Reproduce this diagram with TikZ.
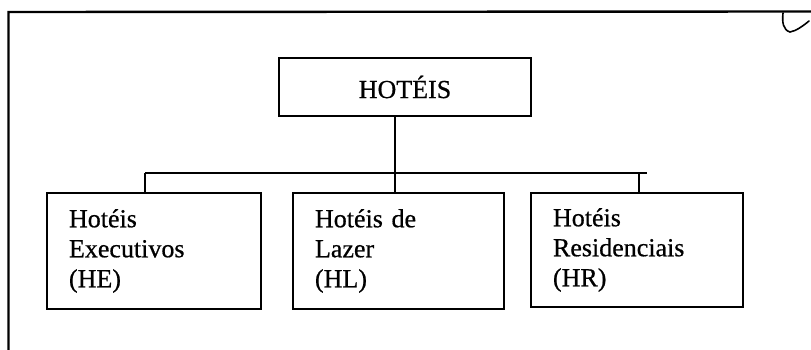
\documentclass[tikz,border=0pt]{standalone}
\usepackage{fontspec}
\setmainfont{Liberation Serif}[FakeBold=0.6]
\begin{document}
\begin{tikzpicture}[x=1pt,y=1pt,
  box/.style={draw=black, line width=2pt, rectangle, inner ysep=0pt,
    font=\fontsize{26}{30}\selectfont},
  childbox/.style={box, anchor=north west, align=left, inner xsep=22pt,
    minimum height=116pt},
  conn/.style={draw=black, line width=1.6pt},
  frame/.style={draw=black, line width=2.4pt}]
\useasboundingbox (0,0) rectangle (811,-350);
% outer frame (left and top sides only, as in the scan)
\coordinate (fbl) at (8.5,-350);
\coordinate (ftl) at (8.5,-12);
\coordinate (ftr) at (811,-11.5);
\draw[frame] (fbl) -- (ftl) -- (ftr);
% handwritten tick mark
\coordinate (tk1) at (783,-13);
\coordinate (tk2) at (790,-32);
\coordinate (tk3) at (809,-21);
\draw[line width=1.6pt, line cap=round] (tk1) .. controls (782,-22) and (783,-30) .. (tk2)
  .. controls (796,-31) and (803,-26) .. (tk3);
% nodes
\node[box, minimum width=252pt, minimum height=58pt, anchor=north west] (top) at (278,-57) {HOTÉIS};
\node[childbox, text width=170pt] (he) at (46,-192) {Hotéis\\Executivos\\(HE)};
\node[childbox, text width=167pt] (hl) at (292,-192) {Hotéis de\\Lazer\\(HL)};
\node[childbox, text width=168pt, minimum height=114pt] (hr) at (530,-192) {Hotéis\\Residenciais\\(HR)};
% connectors
\coordinate (barL) at (145,-173);
\coordinate (barM) at (395,-173);
\coordinate (barD) at (639,-173);
\coordinate (barR) at (647,-173);
\draw[conn] (barM |- top.south) -- (barM |- hl.north);
\draw[conn] (barL) -- (barR);
\draw[conn] (barL) -- (barL |- he.north);
\draw[conn] (barD) -- (barD |- hr.north);
\end{tikzpicture}
\end{document}
